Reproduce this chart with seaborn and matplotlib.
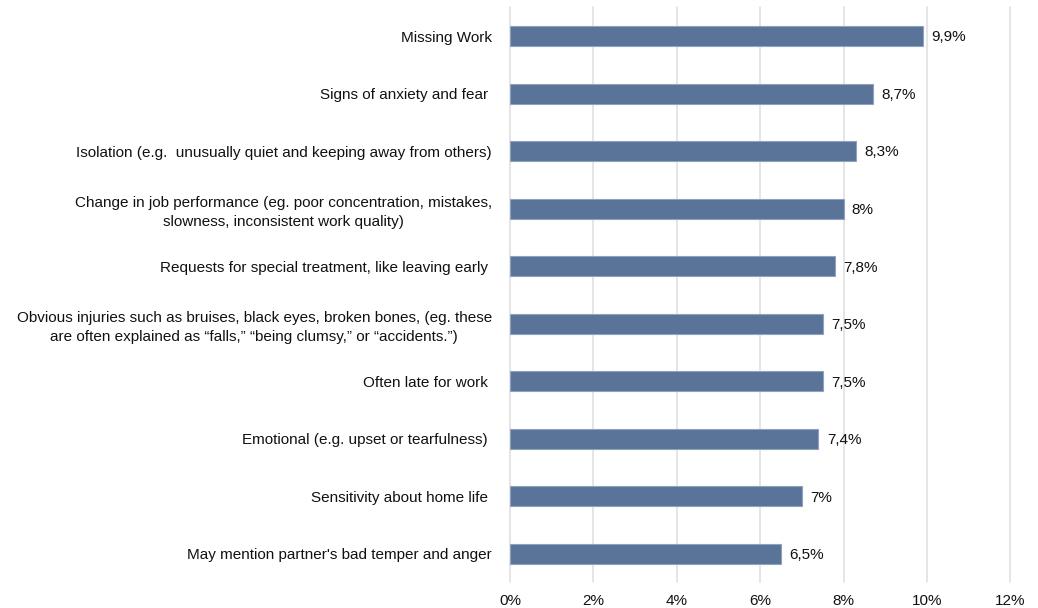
import matplotlib
matplotlib.use("Agg")
import matplotlib.pyplot as plt
import seaborn as sns
import pandas as pd

categories = [
    "Missing Work",
    "Signs of anxiety and fear ",
    "Isolation (e.g.  unusually quiet and keeping away from others)",
    "Change in job performance (eg. poor concentration, mistakes,\nslowness, inconsistent work quality)",
    "Requests for special treatment, like leaving early ",
    "Obvious injuries such as bruises, black eyes, broken bones, (eg. these\nare often explained as \u201cfalls,\u201d \u201cbeing clumsy,\u201d or \u201caccidents.\u201d)",
    "Often late for work ",
    "Emotional (e.g. upset or tearfulness) ",
    "Sensitivity about home life ",
    "May mention partner's bad temper and anger",
]
values = [9.9, 8.7, 8.3, 8.0, 7.8, 7.5, 7.5, 7.4, 7.0, 6.5]
value_labels = ["9,9%", "8,7%", "8,3%", "8%", "7,8%", "7,5%", "7,5%", "7,4%", "7%", "6,5%"]
x_ticks = [0, 2, 4, 6, 8, 10, 12]

sns.set_theme(style="white")
plt.rcParams["font.family"] = ["Liberation Sans Narrow", "Liberation Sans", "DejaVu Sans"]

df = pd.DataFrame({"category": categories, "value": values})

fig = plt.figure(figsize=(10.38, 6.08), dpi=100)
ax = fig.add_axes([0.4913, 0.042, 0.482, 0.946])

sns.barplot(data=df, x="value", y="category", ax=ax, color="#5a7398",
            saturation=1, width=0.35, edgecolor="#8fa2c0", linewidth=0.8, zorder=3)

ax.set_xlim(0, 12)
ax.set_ylim(len(categories) - 0.5, -0.5)
ax.set_xticks(x_ticks)
ax.set_xticklabels([f"{t}%" for t in x_ticks])
ax.xaxis.grid(True, color="#e0e0e0", linewidth=1.2, zorder=0)
for gl in ax.get_xgridlines():
    gl.set_clip_on(False)
ax.yaxis.grid(False)
for s in ax.spines.values():
    s.set_visible(False)
ax.set_xlabel("")
ax.set_ylabel("")
ax.tick_params(axis="y", length=0, pad=13, labelsize=11, labelcolor="#111111")
ax.tick_params(axis="x", length=0, pad=8, labelsize=11, labelcolor="#111111")
for lbl in ax.get_yticklabels():
    lbl.set_multialignment("center")
    lbl.set_linespacing(1.45)

for i, (v, t) in enumerate(zip(values, value_labels)):
    ax.annotate(t, xy=(v, i), xytext=(6, -1), textcoords="offset points",
                va="center", ha="left", fontsize=11, color="#111111")

fig.savefig("out.png", dpi=100)
